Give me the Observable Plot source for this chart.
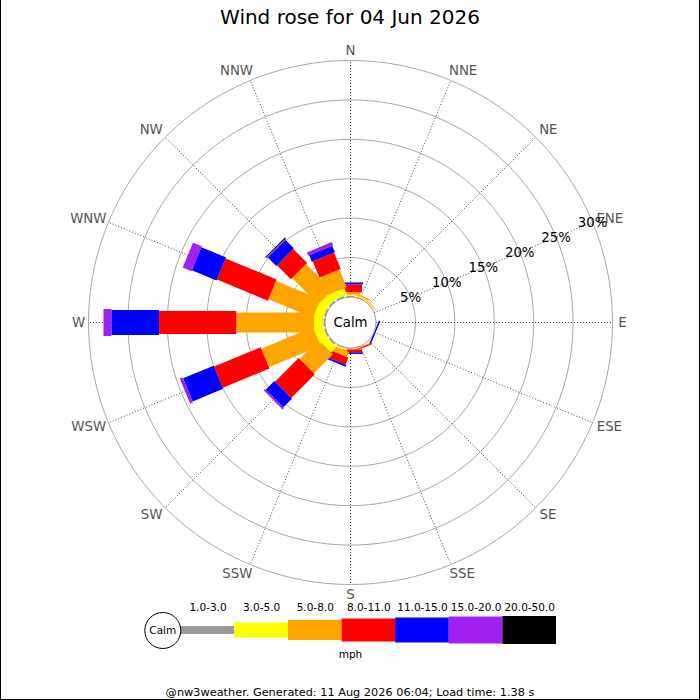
<!DOCTYPE html>
<html>
<head>
<meta charset="utf-8">
<script src="https://cdn.jsdelivr.net/npm/d3@7"></script>
<script src="https://cdn.jsdelivr.net/npm/@observablehq/plot@0.6"></script>
<style>
  html, body { margin: 0; padding: 0; background: #fff; }
  #wrap { position: relative; width: 700px; height: 700px; overflow: hidden; background: #fff;
          font-family: "DejaVu Sans", sans-serif; }
  #title { position: absolute; left: 0; top: 0; width: 700px; height: 34px; line-height: 34px;
           text-align: center; font-size: 20px; color: #000; z-index: 3; }
  #main { position: absolute; left: 0; top: 0; z-index: 1; }
  #legend { position: absolute; left: 0; top: 594.5px; z-index: 2; }
  #footer { position: absolute; left: 0; top: 684px; width: 700px; height: 18px; line-height: 18px;
            text-align: center; font-size: 11.3px; color: #000; z-index: 3; }
  #frame { position: absolute; inset: 0; border-left: 1px solid #000; border-right: 1px solid #000;
           border-bottom: 1px solid #000; pointer-events: none; z-index: 4; }
</style>
</head>
<body>
<div id="wrap">
  <div id="title">Wind rose for 04 Jun 2026</div>
  <div id="main"></div>
  <div id="legend"></div>
  <div id="footer">@nw3weather. Generated: 11 Aug 2026 06:04; Load time: 1.38 s</div>
  <div id="frame"></div>
</div>
<script>
// ---------------- data ----------------
const directions = ["N","NNE","NE","ENE","E","ESE","SE","SSE","S","SSW","SW","WSW","W","WNW","NW","NNW"];
const speedClasses = ["1.0-3.0","3.0-5.0","5.0-8.0","8.0-11.0","11.0-15.0","15.0-20.0","20.0-50.0"];
const classColors = ["#999999","#ffff00","#ffa500","#ff0000","#0000ff","#a020f0","#000000"];
// percent of time per direction (order as directions) for each speed class
const pct_1_3   = [0.15,0.10,0.05,0,0,0,   0,0.05,0.05,0.10,0.20,0.20,0.20,0.20,0.20,0.20];
const pct_3_5   = [0.15,0.15,0.10,0,0,0,   0,0.05,0.05,0.20,1.00,1.20,1.20,1.20,1.10,0.90];
const pct_5_8   = [0.30,0.15,0.10,0,0,0,   0,0.10,0.10,0.70,3.40,7.10,9.85,6.10,4.70,2.40];
const pct_8_11  = [1.00,0,   0,   0,0,0,   0,0.15,0.35,0.95,4.25,6.40,9.80,7.00,2.50,2.25];
const pct_11_15 = [0.25,0,   0,   0,0,0.20,0,0,   0.20,0.25,1.55,4.20,6.05,3.40,1.50,0.90];
const pct_15_20 = [0,   0,   0,   0,0,0,   0,0,   0,   0,   0.25,0.40,1.00,1.20,0.15,0.45];
const pct_20_50 = [0,   0,   0,   0,0,0,   0,0,   0,   0,   0,   0,   0,   0,   0.12,0];
const ringPercents = [5,10,15,20,25,30];
const calmLabel = "Calm";
const unitLabel = "mph";

// ---------------- styles / geometry constants ----------------
const PX = 7.883;           // pixels per percent
const CALM_R = 25.5;        // calm circle radius in px
const CX = 350, CY = 322;   // centre of rose in px
const r0 = CALM_R / PX;     // calm radius in percent units
const segWidthPx = [8,15,20,23,25,27,28];
const series = [pct_1_3, pct_3_5, pct_5_8, pct_8_11, pct_11_15, pct_15_20, pct_20_50];
const rad = i => i * Math.PI / 8;

// bar polygons (data space, percent units)
const barPts = [];
directions.forEach((dir, i) => {
  const s = Math.sin(rad(i)), c = Math.cos(rad(i));
  let cum = 0;
  series.forEach((vals, k) => {
    const v = vals[i];
    if (!(v > 0)) return;
    const r1 = r0 + cum, r2 = r0 + cum + v;
    cum += v;
    const h = segWidthPx[k] / 2 / PX;
    const id = dir + "-" + k;
    [[r1,-h],[r2,-h],[r2,h],[r1,h],[r1,-h]].forEach(([r, o]) =>
      barPts.push({id, color: classColors[k], x: r * s + o * c, y: r * c - o * s}));
  });
});

// grid rings
const ringPts = [];
ringPercents.forEach(p => {
  for (let a = 0; a <= 360; a += 2) {
    const t = a * Math.PI / 180;
    ringPts.push({ring: p, x: (r0 + p) * Math.sin(t), y: (r0 + p) * Math.cos(t)});
  }
});

// direction label positions: anchor on a circle just outside the rose, pushed sideways by text width
const charW = {N: 0.748, E: 0.632, S: 0.635, W: 0.989};
const dirFont = 13.33;
const dirLabels = directions.map((d, i) => {
  const s = Math.sin(rad(i)), c = Math.cos(rad(i));
  const w = [...d].reduce((a, ch) => a + charW[ch], 0) * dirFont;
  const cardinal = i % 4 === 0;
  const side = cardinal ? 0 : Math.sign(Math.round(s * 1000)) * 0.6 * w / 2;
  return {d, x: 272 * s / PX, y: 272 * c / PX, dx: side};
});

const labAng = rad(3); // ENE spoke carries the ring labels

const main = Plot.plot({
  width: 700, height: 700, margin: 0,
  x: {domain: [-CX / PX, (700 - CX) / PX], axis: null},
  y: {domain: [-(700 - CY) / PX, CY / PX], axis: null},
  color: {type: "identity"},
  style: {background: "transparent", fontFamily: "DejaVu Sans, sans-serif"},
  marks: [
    Plot.line(ringPts, {x: "x", y: "y", z: "ring", stroke: "#a8a8a8", strokeWidth: 1}),
    Plot.link(directions, {
      x1: (d, i) => r0 * Math.sin(rad(i)), y1: (d, i) => r0 * Math.cos(rad(i)),
      x2: (d, i) => (r0 + 30) * Math.sin(rad(i)), y2: (d, i) => (r0 + 30) * Math.cos(rad(i)),
      stroke: "#444", strokeWidth: 1, strokeDasharray: "1,2"
    }),
    Plot.line(barPts, {x: "x", y: "y", z: "id", fill: "color", stroke: "none", curve: "linear"}),
    Plot.dot([{x: 0, y: 0}], {x: "x", y: "y", r: CALM_R, fill: "white", stroke: "#999", strokeWidth: 1}),
    Plot.text([calmLabel], {x: () => 0, y: () => 0, text: d => d, fontSize: 13.3, fill: "#000"}),
    ...dirLabels.map(l => Plot.text([l], {x: "x", y: "y", dx: l.dx, text: "d", fontSize: dirFont, fill: "#555"})),
    Plot.text(ringPercents, {
      x: p => (r0 + p) * Math.sin(labAng), y: p => (r0 + p) * Math.cos(labAng),
      text: p => p + "%", fontSize: 13.3, fill: "#000"
    })
  ]
});
document.getElementById("main").appendChild(main);

const legend = Plot.plot({
  width: 700, height: 70, margin: 0,
  x: {domain: [0, speedClasses.length], range: [180.7, 556], axis: null},
  y: {domain: [-35, 35], axis: null},
  color: {type: "identity"},
  style: {background: "transparent", fontFamily: "DejaVu Sans, sans-serif"},
  marks: [
    Plot.rect(speedClasses, {
      x1: (d, i) => i, x2: (d, i) => i + 1,
      y1: (d, i) => -segWidthPx[i] / 2, y2: (d, i) => segWidthPx[i] / 2,
      fill: (d, i) => classColors[i]
    }),
    Plot.text(speedClasses, {x: (d, i) => i + 0.5, frameAnchor: "top", lineAnchor: "middle", dy: 12.2,
      text: d => d, fontSize: 10.5, fill: "#000"}),
    Plot.dot([calmLabel], {x: () => 0, y: () => 0, dx: -18.4, r: 18, fill: "white", stroke: "#000", strokeWidth: 1}),
    Plot.text([calmLabel], {x: () => 0, y: () => 0, dx: -18.4, text: d => d, fontSize: 10.5, fill: "#000"}),
    Plot.text([unitLabel], {frameAnchor: "middle", dy: 23.8, text: d => d, fontSize: 10.5, fill: "#000"})
  ]
});
document.getElementById("legend").appendChild(legend);
</script>
</body>
</html>
